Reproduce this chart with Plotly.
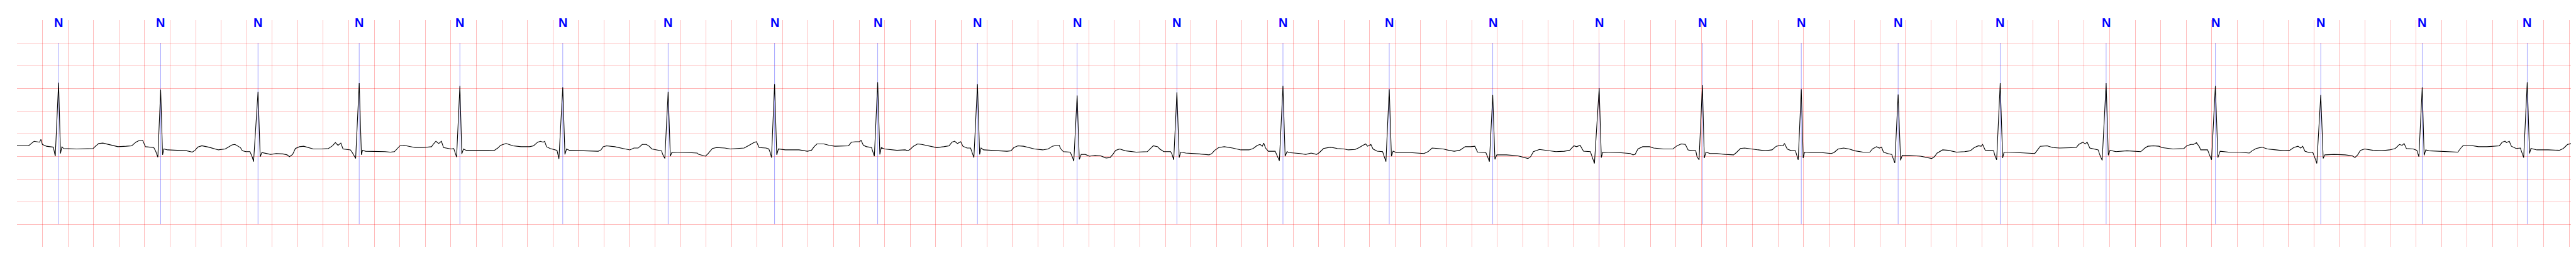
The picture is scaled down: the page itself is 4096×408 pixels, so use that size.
import plotly.graph_objects as go

# ECG trace: (time in s, amplitude in mV)
ecg_trace = [
    (0.000,-0.27),(0.091,-0.27),(0.112,-0.22),(0.134,-0.17),(0.177,-0.19),(0.188,-0.13),(0.199,-0.24),(0.231,-0.28),
    (0.285,-0.30),(0.291,-0.37),(0.300,-0.50),(0.326,1.12),(0.341,-0.44),(0.352,-0.29),(0.365,-0.33),(0.468,-0.34),
    (0.597,-0.33),(0.619,-0.27),(0.641,-0.22),(0.673,-0.21),(0.716,-0.24),(0.759,-0.26),(0.791,-0.29),(0.856,-0.28),
    (0.899,-0.27),(0.932,-0.19),(0.953,-0.16),(0.985,-0.15),(0.996,-0.22),(1.007,-0.29),(1.072,-0.31),(1.087,-0.39),
    (1.104,-0.52),(1.126,0.97),(1.141,-0.47),(1.151,-0.34),(1.180,-0.36),(1.244,-0.37),(1.330,-0.38),(1.374,-0.41),
    (1.395,-0.37),(1.417,-0.30),(1.449,-0.27),(1.503,-0.30),(1.546,-0.33),(1.578,-0.36),(1.632,-0.34),(1.658,-0.30),
    (1.686,-0.25),(1.708,-0.24),(1.729,-0.27),(1.751,-0.31),(1.766,-0.38),(1.794,-0.40),(1.826,-0.40),(1.844,-0.52),
    (1.854,-0.62),(1.889,0.92),(1.906,-0.51),(1.919,-0.42),(1.988,-0.46),(2.031,-0.44),(2.085,-0.45),(2.117,-0.47),
    (2.135,-0.51),(2.160,-0.46),(2.182,-0.33),(2.214,-0.29),(2.247,-0.28),(2.279,-0.31),(2.322,-0.34),(2.387,-0.34),
    (2.441,-0.33),(2.473,-0.27),(2.495,-0.20),(2.516,-0.26),(2.538,-0.21),(2.555,-0.34),(2.613,-0.36),(2.628,-0.42),
    (2.654,-0.55),(2.682,1.11),(2.699,-0.47),(2.708,-0.37),(2.732,-0.39),(2.883,-0.40),(2.926,-0.41),(2.958,-0.40),
    (2.980,-0.33),(3.001,-0.27),(3.034,-0.26),(3.077,-0.29),(3.120,-0.31),(3.185,-0.31),(3.249,-0.29),
    (3.261,-0.24),(3.283,-0.17),(3.305,-0.22),(3.326,-0.17),(3.343,-0.31),(3.402,-0.34),(3.423,-0.33),(3.434,-0.42),
    (3.445,-0.52),(3.471,1.05),(3.486,-0.45),(3.499,-0.34),(3.520,-0.37),(3.693,-0.37),(3.736,-0.38),(3.768,-0.32),
    (3.790,-0.26),(3.833,-0.22),(3.887,-0.27),(3.951,-0.29),(4.016,-0.29),(4.048,-0.27),(4.081,-0.19),(4.102,-0.17),
    (4.124,-0.19),(4.135,-0.17),(4.150,-0.29),(4.178,-0.33),(4.232,-0.37),(4.247,-0.56),(4.277,1.02),(4.294,-0.46),
    (4.307,-0.34),(4.329,-0.37),(4.469,-0.38),(4.555,-0.39),(4.577,-0.36),(4.594,-0.29),(4.620,-0.27),(4.684,-0.29),
    (4.749,-0.33),(4.803,-0.36),(4.835,-0.32),(4.868,-0.32),(4.900,-0.24),(4.932,-0.24),(4.954,-0.28),(4.975,-0.34),
    (5.051,-0.38),(5.062,-0.47),(5.077,-0.55),(5.103,0.92),(5.120,-0.50),(5.133,-0.41),(5.266,-0.42),(5.331,-0.43),
    (5.342,-0.46),(5.396,-0.50),(5.417,-0.44),(5.450,-0.33),(5.482,-0.31),(5.547,-0.32),(5.590,-0.34),(5.698,-0.32),
    (5.730,-0.27),(5.773,-0.20),(5.795,-0.18),(5.816,-0.31),(5.870,-0.32),(5.892,-0.34),(5.903,-0.42),(5.913,-0.53),
    (5.937,1.09),(5.954,-0.47),(5.967,-0.34),(6.021,-0.36),(6.129,-0.36),(6.194,-0.39),(6.226,-0.37),(6.247,-0.29),
    (6.269,-0.23),(6.323,-0.23),(6.366,-0.26),(6.409,-0.28),(6.517,-0.27),(6.539,-0.19),(6.571,-0.18),(6.603,-0.18),
    (6.615,-0.15),(6.633,-0.26),(6.658,-0.29),(6.697,-0.31),(6.706,-0.39),(6.719,-0.50),(6.745,1.13),(6.762,-0.46),
    (6.773,-0.31),(6.799,-0.34),(6.896,-0.37),(6.960,-0.36),(6.982,-0.38),(7.003,-0.34),(7.025,-0.28),(7.057,-0.23),
    (7.090,-0.24),(7.154,-0.28),(7.208,-0.31),(7.262,-0.29),(7.305,-0.27),(7.327,-0.19),(7.348,-0.17),(7.370,-0.22),
    (7.396,-0.18),(7.413,-0.28),(7.445,-0.32),(7.473,-0.32),(7.482,-0.39),(7.499,-0.53),(7.527,1.09),(7.544,-0.46),
    (7.555,-0.32),(7.575,-0.36),(7.693,-0.38),(7.758,-0.39),(7.790,-0.38),(7.812,-0.31),(7.844,-0.27),(7.887,-0.28),
    (7.930,-0.31),(7.974,-0.34),(8.038,-0.36),(8.081,-0.34),(8.114,-0.28),(8.146,-0.26),(8.168,-0.26),(8.178,-0.33),
    (8.200,-0.40),(8.254,-0.41),(8.271,-0.52),(8.282,-0.61),(8.308,0.84),(8.325,-0.57),(8.340,-0.46),(8.372,-0.46),
    (8.405,-0.50),(8.448,-0.48),(8.491,-0.49),(8.534,-0.54),(8.566,-0.53),(8.588,-0.46),(8.610,-0.37),(8.642,-0.34),
    (8.685,-0.38),(8.771,-0.41),(8.858,-0.40),(8.879,-0.34),(8.905,-0.27),(8.939,-0.29),(8.955,-0.34),(8.987,-0.40),
    (9.041,-0.40),(9.052,-0.46),(9.065,-0.58),(9.090,0.91),(9.108,-0.53),(9.120,-0.41),(9.160,-0.43),(9.267,-0.45),
    (9.343,-0.47),(9.364,-0.44),(9.386,-0.37),(9.418,-0.31),(9.461,-0.29),(9.526,-0.32),(9.591,-0.36),(9.655,-0.36),
    (9.688,-0.33),(9.720,-0.26),(9.742,-0.24),(9.759,-0.28),(9.770,-0.21),(9.785,-0.32),(9.806,-0.39),(9.860,-0.39),
    (9.875,-0.49),(9.893,-0.60),(9.921,1.05),(9.938,-0.50),(9.953,-0.40),
    (9.969,-0.42),(10.055,-0.44),(10.099,-0.46),(10.142,-0.43),(10.185,-0.46),(10.206,-0.42),(10.239,-0.33),(10.293,-0.30),
    (10.347,-0.33),(10.400,-0.34),(10.433,-0.36),(10.487,-0.35),(10.519,-0.31),(10.541,-0.27),(10.569,-0.23),(10.584,-0.28),
    (10.610,-0.24),(10.627,-0.34),(10.659,-0.39),(10.702,-0.40),(10.713,-0.49),(10.728,-0.62),(10.754,0.98),(10.771,-0.50),
    (10.784,-0.39),(10.810,-0.42),(10.918,-0.42),(11.026,-0.44),(11.058,-0.40),(11.090,-0.32),(11.134,-0.33),(11.177,-0.34),
    (11.220,-0.37),(11.263,-0.39),(11.306,-0.37),(11.349,-0.29),(11.392,-0.29),(11.425,-0.28),(11.446,-0.41),(11.511,-0.42),
    (11.526,-0.52),(11.539,-0.62),(11.565,0.85),(11.582,-0.57),(11.597,-0.47),(11.673,-0.47),(11.759,-0.49),(11.802,-0.52),
    (11.841,-0.55),(11.862,-0.51),(11.884,-0.40),(11.931,-0.35),(11.996,-0.38),(12.060,-0.40),(12.125,-0.39),(12.168,-0.37),
    (12.201,-0.27),(12.222,-0.29),(12.250,-0.26),(12.276,-0.39),(12.330,-0.40),(12.345,-0.52),(12.362,-0.66),(12.399,1.00),
    (12.416,-0.53),(12.427,-0.41),(12.556,-0.42),(12.643,-0.44),(12.664,-0.47),(12.681,-0.46),(12.703,-0.34),(12.740,-0.29),
    (12.794,-0.29),(12.826,-0.32),(12.902,-0.34),(12.977,-0.34),(13.009,-0.27),(13.042,-0.23),(13.074,-0.24),(13.096,-0.36),
    (13.128,-0.38),(13.156,-0.38),(13.166,-0.51),(13.182,-0.58),(13.208,1.07),(13.223,-0.54),(13.236,-0.41),(13.268,-0.44),
    (13.323,-0.44),(13.388,-0.46),(13.452,-0.47),(13.474,-0.42),(13.506,-0.33),(13.539,-0.32),(13.593,-0.34),(13.646,-0.36),
    (13.700,-0.38),(13.754,-0.36),(13.787,-0.28),(13.819,-0.26),(13.840,-0.27),(13.851,-0.22),(13.873,-0.34),(13.905,-0.38),
    (13.937,-0.38),(13.948,-0.48),(13.959,-0.58),(13.983,0.98),(13.998,-0.54),(14.009,-0.41),(14.056,-0.42),(14.142,-0.42),
    (14.218,-0.44),(14.239,-0.42),(14.272,-0.34),(14.315,-0.32),(14.358,-0.34),(14.401,-0.38),(14.466,-0.41),(14.520,-0.41),
    (14.541,-0.34),(14.573,-0.29),(14.595,-0.32),(14.612,-0.30),(14.627,-0.41),(14.660,-0.44),(14.692,-0.46),(14.703,-0.55),
    (14.716,-0.65),(14.742,0.86),(14.761,-0.59),(14.774,-0.48),(14.832,-0.48),(14.918,-0.50),(14.983,-0.53),(15.005,-0.55),
    (15.026,-0.51),(15.048,-0.43),(15.091,-0.36),(15.134,-0.37),(15.199,-0.41),(15.263,-0.40),(15.307,-0.38),(15.339,-0.31),
    (15.371,-0.27),(15.393,-0.28),(15.404,-0.24),(15.425,-0.37),(15.490,-0.38),(15.501,-0.49),(15.514,-0.58),(15.542,1.11),
    (15.561,-0.54),(15.572,-0.41),(15.608,-0.41),(15.695,-0.42),(15.781,-0.44),(15.813,-0.44),(15.835,-0.36),(15.856,-0.28),
    (15.910,-0.27),(15.953,-0.31),(16.007,-0.32),(16.061,-0.32),(16.137,-0.31),(16.158,-0.24),(16.190,-0.19),(16.208,-0.23),
    (16.223,-0.19),(16.244,-0.32),(16.277,-0.34),(16.309,-0.36),(16.324,-0.48),(16.341,-0.59),(16.372,1.11),(16.389,-0.48),
    (16.402,-0.37),(16.449,-0.40),(16.535,-0.38),(16.643,-0.40),(16.676,-0.32),
    (16.699,-0.28),(16.742,-0.27),(16.786,-0.28),(16.808,-0.31),(16.895,-0.34),(16.982,-0.33),(17.004,-0.27),(17.036,-0.24),
    (17.058,-0.24),(17.080,-0.20),(17.102,-0.29),(17.113,-0.36),(17.167,-0.36),(17.182,-0.47),(17.198,-0.58),(17.228,1.05),
    (17.248,-0.53),(17.265,-0.39),(17.331,-0.41),(17.418,-0.41),(17.494,-0.43),(17.516,-0.38),(17.548,-0.33),(17.592,-0.30),
    (17.636,-0.34),(17.701,-0.36),(17.766,-0.38),(17.810,-0.37),(17.842,-0.31),(17.875,-0.28),(17.897,-0.32),(17.912,-0.28),
    (17.930,-0.39),(17.962,-0.42),(17.991,-0.41),(18.006,-0.52),(18.023,-0.66),(18.054,0.85),(18.073,-0.55),(18.086,-0.47),
    (18.158,-0.46),(18.245,-0.47),(18.300,-0.49),(18.322,-0.53),(18.343,-0.47),(18.365,-0.37),(18.398,-0.34),(18.463,-0.37),
    (18.529,-0.38),(18.594,-0.36),(18.638,-0.33),(18.670,-0.24),(18.692,-0.26),(18.707,-0.22),(18.725,-0.33),(18.779,-0.34),
    (18.807,-0.37),(18.823,-0.51),(18.849,1.02),(18.864,-0.48),(18.877,-0.36),(18.899,-0.38),(18.986,-0.39),(19.073,-0.40),
    (19.128,-0.41),(19.149,-0.33),(19.171,-0.26),(19.226,-0.26),(19.291,-0.29),(19.356,-0.29),(19.422,-0.28),(19.454,-0.27),
    (19.476,-0.19),(19.498,-0.17),(19.509,-0.20),(19.531,-0.17),(19.548,-0.28),(19.585,-0.33),(19.618,-0.32),(19.629,-0.42),
    (19.644,-0.53),(19.672,1.13),(19.690,-0.44),(19.701,-0.33),(19.748,-0.36),(19.836,-0.36),(19.923,-0.37),(19.955,-0.33),
    (19.988,-0.24),(20.021,-0.22),(20.062,-0.26),
]
ecg_time_s = [p[0] for p in ecg_trace]
ecg_mv = [p[1] for p in ecg_trace]

# Beat annotations (R-peak times, s) and their symbols
beat_time_s = [0.326, 1.126, 1.889, 2.682, 3.471, 4.277, 5.103, 5.937, 6.745, 7.527,
               8.308, 9.090, 9.921, 10.754, 11.565, 12.399, 13.208, 13.983, 14.742,
               15.542, 16.372, 17.228, 18.054, 18.849, 19.672]
beat_label = ["N"] * len(beat_time_s)

x_range = [0, 20.064]
y_range = [-2.5, 2.5]
y_grid = [-2.5, -2.0, -1.5, -1.0, -0.5, 0.0, 0.5, 1.0, 1.5, 2.0]
marker_span = [-2.0, 2.0]
label_y = 2.44

fig = go.Figure()
fig.add_trace(go.Scatter(
    x=ecg_time_s, y=ecg_mv, mode="lines",
    line=dict(color="black", width=1.1), hoverinfo="skip", showlegend=False,
))

for t, lab in zip(beat_time_s, beat_label):
    fig.add_shape(type="line", xref="x", yref="y", x0=t, x1=t,
                  y0=marker_span[0], y1=marker_span[1], layer="below",
                  line=dict(color="rgba(0,0,255,0.45)", width=0.8))
    fig.add_annotation(x=t, y=label_y, xref="x", yref="y", text=lab,
                       showarrow=False, xanchor="center", yanchor="middle",
                       font=dict(family="Liberation Sans, Arial, sans-serif",
                                 size=20, color="#0000ff", weight="bold"))

grid_col = "rgba(255,0,0,0.27)"
fig.update_xaxes(range=x_range, tick0=0, dtick=0.2, showgrid=True, gridcolor=grid_col,
                 gridwidth=1.1, showticklabels=False, ticks="", zeroline=False,
                 showline=False)
fig.update_yaxes(range=y_range, tickmode="array", tickvals=y_grid, showgrid=True,
                 gridcolor=grid_col, gridwidth=1.1, showticklabels=False, ticks="",
                 zeroline=False, showline=False)
fig.update_layout(
    width=4096, height=408,
    margin=dict(l=19, r=6, t=24, b=24),
    paper_bgcolor="white", plot_bgcolor="white",
    showlegend=False,
)
fig.write_html("out.html")
